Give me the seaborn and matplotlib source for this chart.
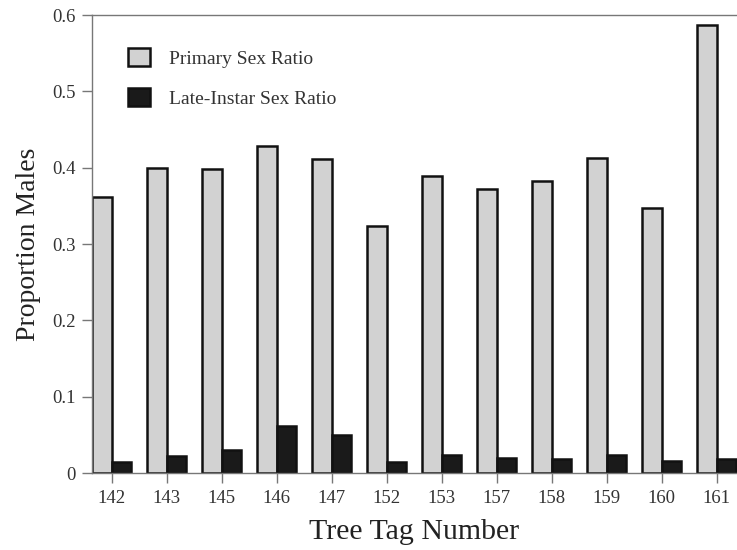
import matplotlib
matplotlib.use("Agg")
import matplotlib.pyplot as plt
import seaborn as sns
import pandas as pd

trees = ["142", "143", "145", "146", "147", "152", "153", "157", "158", "159", "160", "161"]
primary = [0.362, 0.400, 0.398, 0.429, 0.411, 0.324, 0.389, 0.372, 0.382, 0.413, 0.347, 0.587]
late = [0.015, 0.022, 0.030, 0.062, 0.050, 0.014, 0.024, 0.019, 0.018, 0.024, 0.016, 0.018]
series = ["Primary Sex Ratio", "Late-Instar Sex Ratio"]

df = pd.DataFrame({
    "tree": trees * 2,
    "value": primary + late,
    "series": [series[0]] * len(trees) + [series[1]] * len(trees),
})

sns.set_style("white")
plt.rcParams["font.family"] = ["Liberation Serif", "DejaVu Serif"]

fig = plt.figure(figsize=(7.37, 5.5), dpi=100)
ax = fig.add_axes([0.1248, 0.14, 0.8752, 0.8327])

sns.barplot(data=df, x="tree", y="value", hue="series", order=trees,
            hue_order=series, palette=["#d2d2d2", "#1a1a1a"], width=0.71,
            edgecolor="#111111", linewidth=1.8, saturation=1, ax=ax)

ax.set_ylim(0, 0.6)
ax.set_xlim(-0.355, 11.37)
ax.set_yticks([0, 0.1, 0.2, 0.3, 0.4, 0.5, 0.6])
ax.set_yticklabels(["0", "0.1", "0.2", "0.3", "0.4", "0.5", "0.6"])

for side in ["left", "top", "bottom"]:
    ax.spines[side].set_visible(True)
    ax.spines[side].set_color("#777777")
    ax.spines[side].set_linewidth(1.0)
ax.spines["right"].set_visible(False)

ax.tick_params(axis="both", which="major", direction="out", length=7,
               width=1.0, color="#777777", labelsize=13.5, labelcolor="#333333",
               pad=5, left=True, bottom=True)

ax.set_xlabel("Tree Tag Number", fontsize=21.5, color="#222222", labelpad=9)
ax.set_ylabel("Proportion Males", fontsize=20, color="#222222", labelpad=8)

leg = ax.legend(loc="upper left", bbox_to_anchor=(0.029, 0.966), frameon=False,
                fontsize=14, handlelength=1.1, handleheight=1.05,
                labelspacing=1.05, handletextpad=1.0)
for t in leg.get_texts():
    t.set_color("#333333")

fig.savefig("out.png", dpi=100)
